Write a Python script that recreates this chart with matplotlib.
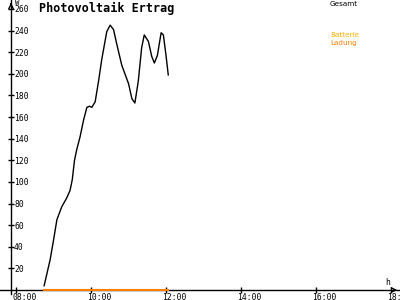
import matplotlib
matplotlib.use('Agg')
import matplotlib.pyplot as plt

# Ertrag (W) ueber Uhrzeit (h)
stunden = [8.75, 8.91, 9.0, 9.09, 9.22, 9.35, 9.44, 9.5, 9.56, 9.62, 9.71, 9.8, 9.89,
           9.96, 10.02, 10.11, 10.2, 10.29, 10.42, 10.51, 10.6, 10.69, 10.82, 11.0,
           11.09, 11.17, 11.26, 11.35, 11.42, 11.53, 11.62, 11.69, 11.77, 11.87,
           11.93, 12.0, 12.06]
gesamt = [4, 28, 46, 65, 77, 85, 92, 102, 120, 130, 142, 157, 169,
          170, 169, 174, 193, 214, 239, 245, 241, 227, 208, 191,
          177, 173, 193, 224, 236, 230, 216, 210, 217, 238,
          236, 217, 199]

# Batterie-Ladung (ueber den ganzen Zeitraum 0 W)
ladung_stunden = [8.75, 12.06]
ladung = [0, 0]

y_ticks = list(range(20, 261, 20))
x_ticks = [8, 10, 12, 14, 16, 18]
x_labels = ['08:00', '10:00', '12:00', '14:00', '16:00', '18:00']

fig = plt.figure(figsize=(4, 3), dpi=100)
ax = fig.add_axes([0, 0, 1, 1])
ax.set_xlim(7.573, 18.24)
ax.set_ylim(-9.25, 268.3)
y_achse = 7.867

ax.plot(stunden, gesamt, color='black', lw=1.0)
ax.plot(ladung_stunden, ladung, color='#ff8000', lw=1.5, zorder=5)

# Achsen
for s in ['top', 'right']:
    ax.spines[s].set_visible(False)
ax.spines['bottom'].set_position(('data', 0))
ax.spines['left'].set_position(('data', y_achse))
ax.spines['left'].set_bounds(-4, 268.3)
ax.spines['bottom'].set_linewidth(1)
ax.spines['left'].set_linewidth(1)
ax.set_xticks(x_ticks)
ax.set_yticks(y_ticks)
ax.tick_params(direction='inout', length=5, width=1, labelbottom=False, labelleft=False)

# Pfeilspitzen
ax.annotate('', xy=(18.24, 0), xytext=(18.0, 0),
            arrowprops=dict(arrowstyle='->', lw=1, color='black', mutation_scale=8))
ax.annotate('', xy=(y_achse, 268.3), xytext=(y_achse, 262),
            arrowprops=dict(arrowstyle='->', lw=1, color='black', mutation_scale=8))

mono = 'DejaVu Sans Mono'
for v in y_ticks:
    ax.annotate(str(v), (y_achse, v), xytext=(3, -1), textcoords='offset pixels',
                ha='left', va='center', fontsize=5.8, family=mono)
for v, lab in zip(x_ticks, x_labels):
    ax.annotate(lab, (v, 0), xytext=(-4, -3), textcoords='offset pixels',
                ha='left', va='top', fontsize=5.8, family=mono)

ax.text(0.0375, 1.0, 'W', transform=ax.transAxes, ha='left', va='top',
        fontsize=5.2, family=mono)
ax.text(0.962, 0.072, 'h', transform=ax.transAxes, ha='left', va='top',
        fontsize=5.8, family=mono)

fig.text(0.098, 0.995, 'Photovoltaik Ertrag', ha='left', va='top',
         fontsize=8.5, family=mono, weight='bold')
fig.text(0.825, 0.995, 'Gesamt', ha='left', va='top', fontsize=5.2, color='black')
fig.text(0.825, 0.892, 'Batterie', ha='left', va='top', fontsize=5.2, color='#ffb000')
fig.text(0.825, 0.865, 'Ladung', ha='left', va='top', fontsize=5.2, color='#ff8000')

fig.savefig('out.png', dpi=100)
